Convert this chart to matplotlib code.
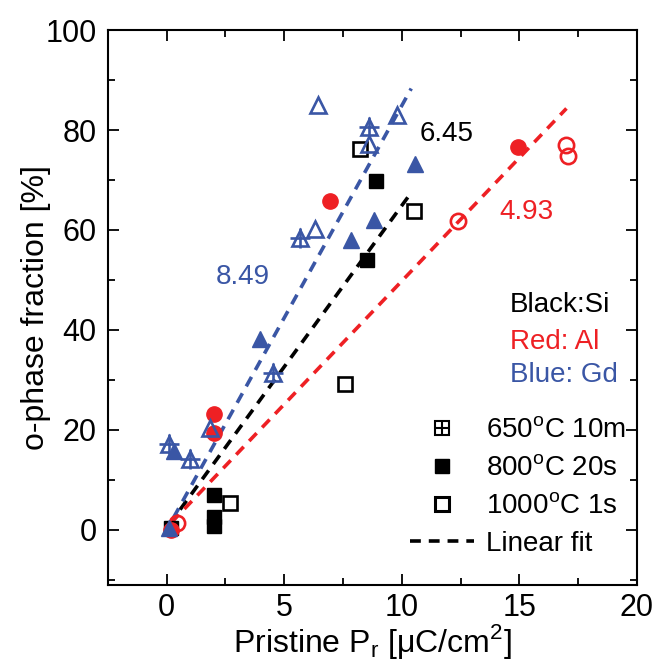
import matplotlib
matplotlib.use('Agg')
import matplotlib.pyplot as plt
import numpy as np
from matplotlib.lines import Line2D

plt.rcParams['font.family'] = ['Liberation Sans', 'DejaVu Sans']
plt.rcParams['mathtext.fontset'] = 'custom'
plt.rcParams['mathtext.rm'] = 'Liberation Sans'

BLACK = '#000000'
RED = '#ee2024'
BLUE = '#3a56a5'

# Si (black squares)
si_800_x = [0.2, 2.0, 2.0, 2.0, 8.5, 8.9]
si_800_y = [0.3, 7.0, 2.5, 0.8, 54.0, 69.8]
si_1000_x = [2.7, 7.6, 8.2, 10.5]
si_1000_y = [5.3, 29.2, 76.2, 63.8]

# Al (red circles)
al_800_x = [0.2, 2.0, 2.0, 6.95, 14.95]
al_800_y = [0.0, 23.2, 19.3, 65.8, 76.7]
al_1000_x = [0.45, 12.4, 17.0, 17.05]
al_1000_y = [1.3, 61.8, 77.0, 74.8]

# Gd (blue triangles)
gd_650_x = [0.1, 1.0, 4.5, 5.65, 8.6]
gd_650_y = [17.2, 14.2, 31.4, 58.4, 80.6]
gd_800_x = [0.1, 0.3, 3.95, 7.85, 8.8, 10.55]
gd_800_y = [0.3, 15.8, 38.2, 58.0, 62.0, 73.2]
gd_1000_x = [1.85, 6.3, 6.45, 8.6, 9.8]
gd_1000_y = [20.4, 60.2, 85.0, 77.2, 83.0]

# linear fits: slope, intercept, x range
fit_slopes = [6.45, 4.93, 8.49]
fit_icpt = [0.4, 0.5, 0.0]
fit_xmin = [0.1, 0.2, -0.1]
fit_xmax = [10.4, 17.0, 10.4]
fit_colors = [BLACK, RED, BLUE]

fig = plt.figure(figsize=(6.54, 6.67), dpi=100)
ax = fig.add_axes([0.165, 0.123, 0.809, 0.832])

for m, b, x0, x1, c in zip(fit_slopes, fit_icpt, fit_xmin, fit_xmax, fit_colors):
    xx = np.array([x0, x1])
    ax.plot(xx, m * xx + b, ls=(0, (3, 2.2)), color=c, lw=2.6, zorder=1)

ms_sq = 10.5
ms_c = 11
ms_t = 12
mew = 1.9

# squares
ax.plot(si_800_x, si_800_y, 's', ms=ms_sq, color=BLACK, zorder=3)
ax.plot(si_1000_x, si_1000_y, 's', ms=ms_sq, mfc='white', mec=BLACK, mew=mew, zorder=3)
# circles
ax.plot(al_800_x, al_800_y, 'o', ms=ms_c, color=RED, zorder=3)
ax.plot(al_1000_x, al_1000_y, 'o', ms=ms_c, mfc='none', mec=RED, mew=mew, zorder=3)
# triangles
ax.plot(gd_800_x, gd_800_y, '^', ms=ms_t, color=BLUE, zorder=3)
ax.plot(gd_1000_x, gd_1000_y, '^', ms=ms_t, mfc='none', mec=BLUE, mew=mew, zorder=3)
ax.plot(gd_650_x, gd_650_y, '^', ms=ms_t, mfc='none', mec=BLUE, mew=mew, zorder=3)
ax.plot(gd_650_x, gd_650_y, '+', ms=ms_t + 2, mec=BLUE, mew=mew, zorder=3)

# slope labels
ax.text(11.9, 79.3, '6.45', color=BLACK, fontsize=20, ha='center', va='center')
ax.text(3.25, 50.6, '8.49', color=BLUE, fontsize=20, ha='center', va='center')
ax.text(15.3, 63.5, '4.93', color=RED, fontsize=20, ha='center', va='center')

ax.text(14.6, 45.0, 'Black:Si', color=BLACK, fontsize=20, va='center')
ax.text(14.6, 37.6, 'Red: Al', color=RED, fontsize=20, va='center')
ax.text(14.6, 31.0, 'Blue: Gd', color=BLUE, fontsize=20, va='center')

h_650 = (Line2D([], [], ls='none', marker='s', ms=ms_sq, mfc='none', mec=BLACK, mew=1.5),
         Line2D([], [], ls='none', marker='+', ms=ms_sq, mec=BLACK, mew=1.5))
h_800 = Line2D([], [], ls='none', marker='s', ms=ms_sq, color=BLACK)
h_1000 = Line2D([], [], ls='none', marker='s', ms=ms_sq - 1, mfc='none', mec=BLACK, mew=2.2)
h_fit = Line2D([], [], ls=(0, (3, 2.2)), color=BLACK, lw=2.6)
leg = ax.legend([h_650, h_800, h_1000, h_fit],
                ['650$^{\\mathrm{o}}$C 10m', '800$^{\\mathrm{o}}$C 20s',
                 '1000$^{\\mathrm{o}}$C 1s', 'Linear fit'],
                loc='lower left', bbox_to_anchor=(0.571, 0.05), frameon=False,
                fontsize=20, handlelength=2.3, handletextpad=0.43,
                labelspacing=0.42, borderpad=0.0, borderaxespad=0.0)

ax.set_xlim(-2.5, 20)
ax.set_ylim(-11, 100)
ax.set_xticks([0, 5, 10, 15, 20])
ax.set_yticks([0, 20, 40, 60, 80, 100])
ax.set_xticks(np.arange(2.5, 20, 5), minor=True)
ax.set_yticks(np.arange(-10, 100, 20), minor=True)
ax.tick_params(which='both', direction='in', top=True, right=True, width=1.3)
ax.tick_params(which='major', length=8, labelsize=22, pad=8)
ax.tick_params(axis='x', which='major', pad=6)
ax.tick_params(which='minor', length=5)
for s in ax.spines.values():
    s.set_linewidth(1.5)

ax.set_xlabel('Pristine P$_{\\mathrm{r}}$ [\u03bcC/cm$^{\\mathrm{2}}$]', fontsize=23, labelpad=-1)
ax.set_ylabel('o-phase fraction [%]', fontsize=23, labelpad=-4)

fig.savefig('out.png', dpi=100)
